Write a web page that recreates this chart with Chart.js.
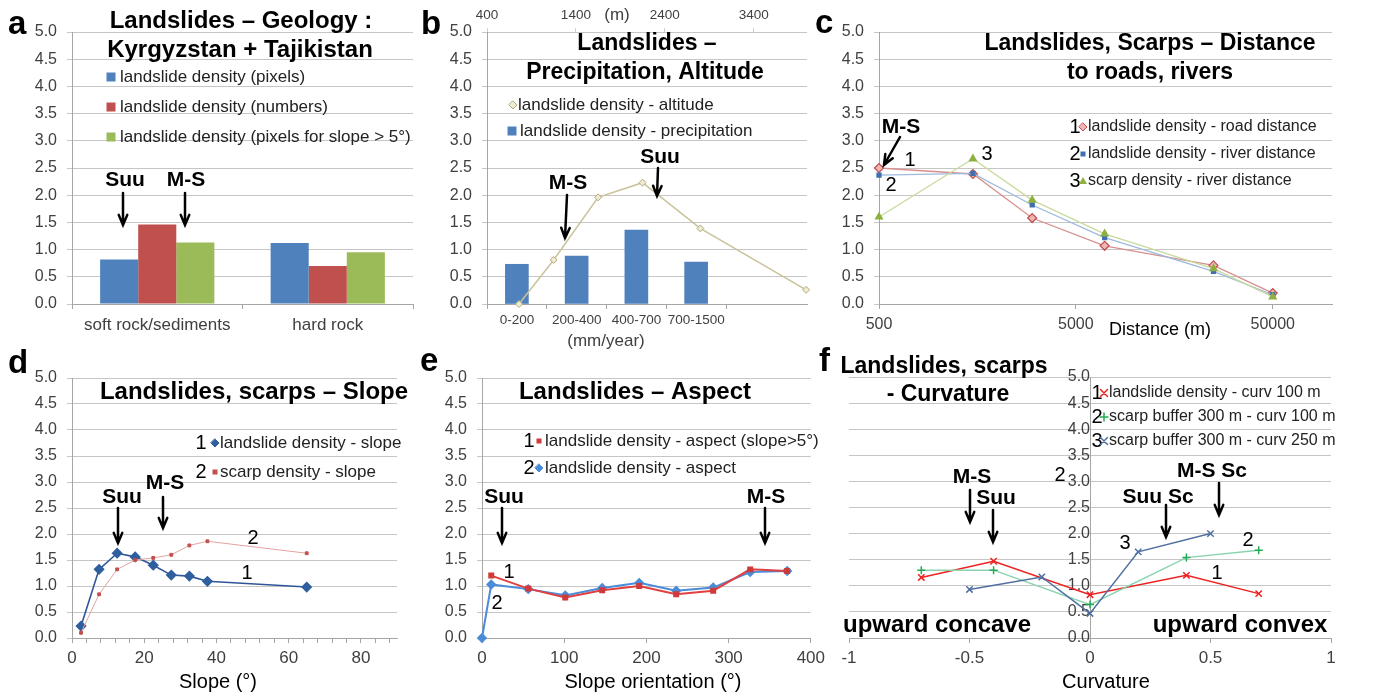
<!DOCTYPE html>
<html>
<head>
<meta charset="utf-8">
<script src="https://cdn.jsdelivr.net/npm/chart.js@4.4.0/dist/chart.umd.min.js"></script>
<style>
  body { margin: 0; background: #fff; width: 1381px; height: 693px; overflow: hidden; position: relative; }
  .p { position: absolute; }
  .lt { position: absolute; font: bold 33px "Liberation Sans", Arial, sans-serif; line-height: 33px; color: #000; }
</style>
</head>
<body>
<div class="p" style="left:0;top:0;width:420px;height:350px"><canvas id="ca"></canvas></div>
<div class="p" style="left:400px;top:0;width:430px;height:350px"><canvas id="cb"></canvas></div>
<div class="p" style="left:830px;top:0;width:551px;height:350px"><canvas id="cc"></canvas></div>
<div class="p" style="left:0;top:340px;width:420px;height:353px"><canvas id="cd"></canvas></div>
<div class="p" style="left:420px;top:340px;width:410px;height:353px"><canvas id="ce"></canvas></div>
<div class="p" style="left:830px;top:340px;width:551px;height:353px"><canvas id="cf"></canvas></div>
<div class="lt" style="left:8px;top:6px">a</div>
<div class="lt" style="left:421px;top:6px">b</div>
<div class="lt" style="left:815px;top:5px">c</div>
<div class="lt" style="left:8px;top:345px">d</div>
<div class="lt" style="left:420px;top:343px">e</div>
<div class="lt" style="left:819px;top:343px">f</div>
<script>
// ---- data ----
// a: geology
const geoCats = ["soft rock/sediments", "hard rock"];
const geoPixels = [0.82, 1.12];
const geoNumbers = [1.46, 0.70];
const geoSlope5 = [1.13, 0.95];
// b: precipitation (bars) + altitude (line, top axis)
const precipCats = ["0-200", "200-400", "400-700", "700-1500"];
const precipDensity = [0.73, 0.88, 1.36, 0.77];
const altitudeM = [760, 1150, 1650, 2150, 2800, 3990];
const altitudeDensity = [0.0, 0.81, 1.96, 2.23, 1.39, 0.26];
const altitudeTicks = [400, 1400, 2400, 3400];
// c: distance to roads / rivers
const distM = [500, 1500, 3000, 7000, 25000, 50000];
const roadDensity = [2.50, 2.39, 1.58, 1.07, 0.71, 0.20];
const riverDensity = [2.37, 2.40, 1.82, 1.22, 0.60, 0.17];
const scarpRiverDensity = [1.60, 2.67, 1.91, 1.29, 0.65, 0.13];
const distTicks = [500, 5000, 50000];
// d: slope
const slopeDeg = [2.5, 7.5, 12.5, 17.5, 22.5, 27.5, 32.5, 37.5, 65];
const slopeLandslide = [0.23, 1.32, 1.63, 1.56, 1.40, 1.21, 1.19, 1.09, 0.98];
const slopeScarp = [0.10, 0.84, 1.32, 1.50, 1.54, 1.60, 1.78, 1.86, 1.63];
// e: aspect
const aspectDeg = [0, 11.25, 56.25, 101.25, 146.25, 191.25, 236.25, 281.25, 326.25, 371.25];
const aspectSlope5 = [null, 1.20, 0.95, 0.78, 0.92, 1.00, 0.84, 0.91, 1.32, 1.29];
const aspectAll = [0, 1.03, 0.94, 0.82, 0.96, 1.06, 0.91, 0.97, 1.27, 1.29];
// f: curvature
const curv100 = [-0.7, -0.4, 0, 0.4, 0.7];
const curvLandslide = [1.16, 1.47, 0.83, 1.20, 0.85];
const curvScarp100 = [1.30, 1.30, 0.64, 1.54, 1.68];
const curv250 = [-0.5, -0.2, 0, 0.2, 0.5];
const curvScarp250 = [0.93, 1.17, 0.47, 1.65, 2.00];

const FONT = '"Liberation Sans", Arial, sans-serif';
const gridCol = "#c6c6c6";
const axisCol = "#a6a6a6";
const tickCol = "#404040";

const xy = (xs, ys) => xs.map((x, i) => ({ x: x, y: ys[i] }));

// texts / arrows / legends drawn over each chart (canvas pixel coords)
const NOTES = {
  ca: {
    texts: [
      ["Landslides – Geology :", 241, 21, "bold 24px"],
      ["Kyrgyzstan + Tajikistan", 240, 50, "bold 24px"],
      ["Suu", 125, 180, "bold 21px"],
      ["M-S", 186, 180, "bold 21px"],
    ],
    arrows: [[123, 193, 123, 225], [185, 193, 185, 225]],
    legend: [
      [null, 0, "square", "#4F81BD", null, 111, 120, 77, "landslide density (pixels)", 17],
      [null, 0, "square", "#C0504D", null, 111, 120, 107, "landslide density (numbers)", 17],
      [null, 0, "square", "#9BBB59", null, 111, 120, 137, "landslide density (pixels for slope > 5°)", 17],
    ],
  },
  cb: {
    texts: [
      ["Landslides –", 247, 44, "bold 23px"],
      ["Precipitation, Altitude", 245, 73, "bold 23px"],
      ["Suu", 260, 157, "bold 21px"],
      ["M-S", 168, 183, "bold 21px"],
      ["(m)", 217, 15, "17px", tickCol],
      ["(mm/year)", 206, 341, "17px", tickCol],
    ],
    arrows: [[167, 195, 165, 238], [258, 168, 257, 196]],
    legend: [
      [null, 0, "rectRot", "#EEEBD3", "#B3AA7A", 113, 118, 105, "landslide density - altitude", 17],
      [null, 0, "square", "#4F81BD", null, 112, 120, 131, "landslide density - precipitation", 17],
    ],
  },
  cc: {
    texts: [
      ["Landslides, Scarps – Distance", 320, 44, "bold 23px"],
      ["to roads, rivers", 320, 73, "bold 23px"],
      ["M-S", 71, 127, "bold 21px"],
      ["1", 80, 160, "20px"],
      ["2", 61, 185, "20px"],
      ["3", 157, 154, "20px"],
      ["Distance (m)", 330, 330, "18px"],
    ],
    arrows: [[70, 137, 54, 165]],
    legend: [
      ["1", 245, "rectRot", "#EDB5B3", "#C0504D", 253, 258, 127, "landslide density - road distance", 16],
      ["2", 245, "rect", "#3F6FB0", null, 253, 258, 154, "landslide density - river distance", 16],
      ["3", 245, "triangle", "#8DB040", null, 253, 258, 181, "scarp density - river distance", 16],
    ],
  },
  cd: {
    texts: [
      ["Landslides, scarps – Slope", 254, 52, "bold 24px"],
      ["Suu", 122, 157, "bold 21px"],
      ["M-S", 165, 143, "bold 21px"],
      ["2", 253, 198, "20px"],
      ["1", 247, 233, "20px"],
      ["Slope (°)", 218, 342, "20px"],
    ],
    arrows: [[118, 168, 118, 203], [163, 157, 163, 188]],
    legend: [
      ["1", 201, "rectRot", "#2F5F9E", null, 215, 220, 103, "landslide density - slope", 17],
      ["2", 201, "rect", "#C0504D", null, 215, 220, 132, "scarp density - slope", 17],
    ],
  },
  ce: {
    texts: [
      ["Landslides – Aspect", 215, 52, "bold 24px"],
      ["Suu", 84, 157, "bold 21px"],
      ["M-S", 346, 157, "bold 21px"],
      ["1", 89, 232, "20px"],
      ["2", 77, 263, "20px"],
      ["Slope orientation (°)", 233, 342, "20px"],
    ],
    arrows: [[82, 168, 82, 203], [345, 168, 345, 203]],
    legend: [
      ["1", 109, "rect", "#D03A3A", null, 119, 125, 101, "landslide density - aspect (slope>5°)", 17],
      ["2", 109, "rectRot", "#4A8CD8", null, 119, 125, 128, "landslide density - aspect", 17],
    ],
  },
  cf: {
    texts: [
      ["Landslides, scarps", 114, 27, "bold 23px"],
      ["- Curvature", 118, 55, "bold 23px"],
      ["M-S", 142, 137, "bold 21px"],
      ["Suu", 166, 158, "bold 21px"],
      ["Suu Sc", 328, 157, "bold 21px"],
      ["M-S Sc", 382, 131, "bold 21px"],
      ["2", 230, 135, "20px"],
      ["3", 295, 203, "20px"],
      ["2", 418, 200, "20px"],
      ["1", 387, 233, "20px"],
      ["upward concave", 107, 285, "bold 24px"],
      ["upward convex", 410, 285, "bold 24px"],
      ["Curvature", 276, 342, "20px"],
    ],
    arrows: [[140, 150, 140, 182], [163, 170, 163, 202], [336, 165, 336, 197], [389, 143, 389, 175]],
    legend: [
      ["1", 267, "crossRot", "#EE2020", null, 274, 279, 53, "landslide density - curv 100 m", 16],
      ["2", 267, "cross", "#22AA55", null, 274, 279, 77, "scarp buffer 300 m - curv 100 m", 16],
      ["3", 267, "crossRot", "#4F6FA0", null, 274, 279, 101, "scarp buffer 300 m - curv 250 m", 16],
    ],
  },
};

function mark(ctx, st, x, y, fill, line) {
  ctx.save();
  ctx.fillStyle = fill;
  ctx.strokeStyle = line || fill;
  ctx.lineWidth = 1.5;
  ctx.beginPath();
  if (st === "square") {
    ctx.fillRect(x - 4.5, y - 4.5, 9, 9);
  } else if (st === "rect") {
    ctx.fillRect(x - 2.5, y - 2.5, 5, 5);
  } else if (st === "rectRot") {
    ctx.moveTo(x, y - 4); ctx.lineTo(x + 4, y); ctx.lineTo(x, y + 4); ctx.lineTo(x - 4, y); ctx.closePath();
    ctx.fill(); ctx.lineWidth = 1; ctx.stroke();
  } else if (st === "triangle") {
    ctx.moveTo(x, y - 4); ctx.lineTo(x + 4, y + 3); ctx.lineTo(x - 4, y + 3); ctx.closePath(); ctx.fill();
  } else if (st === "cross") {
    ctx.moveTo(x - 4, y); ctx.lineTo(x + 4, y); ctx.moveTo(x, y - 4); ctx.lineTo(x, y + 4); ctx.stroke();
  } else if (st === "crossRot") {
    ctx.moveTo(x - 3.5, y - 3.5); ctx.lineTo(x + 3.5, y + 3.5); ctx.moveTo(x + 3.5, y - 3.5); ctx.lineTo(x - 3.5, y + 3.5); ctx.stroke();
  }
  ctx.restore();
}

function arrow(ctx, x1, y1, x2, y2) {
  const ang = Math.atan2(y2 - y1, x2 - x1), h = 11;
  ctx.beginPath();
  ctx.moveTo(x1, y1); ctx.lineTo(x2, y2);
  ctx.moveTo(x2 - h * Math.cos(ang - 0.4), y2 - h * Math.sin(ang - 0.4));
  ctx.lineTo(x2, y2);
  ctx.lineTo(x2 - h * Math.cos(ang + 0.4), y2 - h * Math.sin(ang + 0.4));
  ctx.stroke();
}

const notesPlugin = {
  id: "notes",
  afterDraw(chart) {
    const n = NOTES[chart.canvas.id];
    if (!n) return;
    const ctx = chart.ctx;
    ctx.save();
    ctx.textBaseline = "middle";
    n.texts.forEach(([s, x, y, f, col]) => {
      ctx.font = f + " " + FONT;
      ctx.fillStyle = col || "#000";
      ctx.textAlign = "center";
      ctx.fillText(s, x, y);
    });
    ctx.strokeStyle = "#000";
    ctx.lineWidth = 2.5;
    ctx.lineCap = "round";
    n.arrows.forEach(a => arrow(ctx, a[0], a[1], a[2], a[3]));
    n.legend.forEach(([num, nx, st, fill, line, mx, tx, y, s, fs]) => {
      if (num) {
        ctx.font = "20px " + FONT;
        ctx.fillStyle = "#000";
        ctx.textAlign = "center";
        ctx.fillText(num, nx, y);
      }
      mark(ctx, st, mx, y, fill, line);
      ctx.font = fs + "px " + FONT;
      ctx.fillStyle = "#222";
      ctx.textAlign = "left";
      ctx.fillText(s, tx, y);
    });
    ctx.restore();
  },
};
Chart.register(notesPlugin);

const yAxis = (w, extra) => Object.assign({
  min: 0,
  max: 5,
  ticks: { stepSize: 0.5, callback: v => v.toFixed(1), font: { family: FONT, size: 16 }, color: tickCol, padding: 10 },
  grid: { color: gridCol, tickLength: 5 },
  border: { color: axisCol },
  afterFit: s => { if (w) s.width = w; },
}, extra || {});

const xTickStyle = (size, pad) => ({ font: { family: FONT, size: size }, color: tickCol, padding: pad, autoSkip: false, maxRotation: 0 });
const xGrid = { drawOnChartArea: false, tickLength: 5, color: axisCol };
const setTicks = vals => axis => { axis.ticks = vals.map(v => ({ value: v })); };

const base = (pad) => ({
  responsive: true,
  maintainAspectRatio: false,
  animation: false,
  layout: { padding: pad },
  datasets: { line: { clip: false } },
  plugins: { legend: { display: false }, tooltip: { enabled: false } },
});

// a
new Chart(document.getElementById("ca"), {
  type: "bar",
  data: {
    labels: geoCats,
    datasets: [
      { data: geoPixels, backgroundColor: "#4F81BD" },
      { data: geoNumbers, backgroundColor: "#C0504D" },
      { data: geoSlope5, backgroundColor: "#9BBB59" },
    ],
  },
  options: Object.assign(base({ top: 32, right: 7, left: 0, bottom: 0 }), {
    datasets: { bar: { categoryPercentage: 0.67, barPercentage: 1 } },
    scales: {
      x: { ticks: xTickStyle(17, 6), grid: Object.assign({ offset: true }, xGrid), border: { color: axisCol }, afterFit: s => { s.height = 46; } },
      y: yAxis(72),
    },
  }),
});

// b
const precipMax = 320 / 59.75;
new Chart(document.getElementById("cb"), {
  type: "bar",
  data: {
    datasets: [
      {
        type: "line",
        xAxisID: "x2",
        data: xy(altitudeM, altitudeDensity),
        borderColor: "#C9C29A",
        borderWidth: 1.5,
        pointStyle: "rectRot",
        pointRadius: 3.5,
        pointBackgroundColor: "#EEEBD3",
        pointBorderColor: "#B3AA7A",
        pointBorderWidth: 1,
        clip: false,
      },
      {
        xAxisID: "x",
        data: precipDensity.map((v, i) => ({ x: i + 0.5, y: v })),
        backgroundColor: "#4F81BD",
        barThickness: 23,
        grouped: false,
      },
    ],
  },
  options: Object.assign(base({ top: 0, right: 23, left: 0, bottom: 0 }), {
    scales: {
      x: {
        type: "linear",
        min: 0,
        max: precipMax,
        offset: false,
        afterBuildTicks: setTicks([0, 1, 2, 3, 4]),
        ticks: Object.assign(xTickStyle(13.5, 3), { labelOffset: 30, callback: (v, i) => precipCats[i] || "" }),
        grid: Object.assign({ offset: false }, xGrid),
        border: { color: axisCol },
        afterFit: s => { s.height = 46; },
      },
      x2: {
        type: "linear",
        position: "top",
        min: 400,
        max: 4000,
        offset: false,
        afterBuildTicks: setTicks(altitudeTicks),
        ticks: Object.assign(xTickStyle(13.5, 5), { callback: v => String(v) }),
        grid: { drawOnChartArea: false, offset: false, tickLength: 4, color: "#d0d0d0" },
        border: { display: false },
        afterFit: s => { s.height = 32; },
      },
      y: yAxis(87),
    },
  }),
});

// c
new Chart(document.getElementById("cc"), {
  type: "line",
  data: {
    datasets: [
      {
        data: xy(distM, scarpRiverDensity),
        borderColor: "#C8DA9E", borderWidth: 1.3,
        pointStyle: "triangle", pointRadius: 4, pointBackgroundColor: "#8DB040", pointBorderColor: "#8DB040",
      },
      {
        data: xy(distM, riverDensity),
        borderColor: "#9DB9DC", borderWidth: 1.3,
        pointStyle: "rect", pointRadius: 2.8, pointBackgroundColor: "#3F6FB0", pointBorderColor: "#3F6FB0",
      },
      {
        data: xy(distM, roadDensity),
        borderColor: "#D7908E", borderWidth: 1.3,
        pointStyle: "rectRot", pointRadius: 4.5, pointBackgroundColor: "#EDB5B3", pointBorderColor: "#C0504D", pointBorderWidth: 1.2,
      },
    ],
  },
  options: Object.assign(base({ top: 32, right: 49, left: 0, bottom: 0 }), {
    scales: {
      x: {
        type: "logarithmic",
        min: 500,
        max: 100000,
        afterBuildTicks: setTicks(distTicks),
        ticks: Object.assign(xTickStyle(16, 6), { callback: v => String(v) }),
        grid: xGrid,
        border: { color: axisCol },
        afterFit: s => { s.height = 46; },
      },
      y: yAxis(49),
    },
  }),
});

// d
new Chart(document.getElementById("cd"), {
  type: "line",
  data: {
    datasets: [
      {
        data: xy(slopeDeg, slopeScarp),
        borderColor: "#E3A3A2", borderWidth: 1,
        pointStyle: "rect", pointRadius: 2, pointBackgroundColor: "#C0504D", pointBorderColor: "#C0504D",
      },
      {
        data: xy(slopeDeg, slopeLandslide),
        borderColor: "#2F5597", borderWidth: 1.6,
        pointStyle: "rectRot", pointRadius: 4.5, pointBackgroundColor: "#2F5F9E", pointBorderColor: "#2F5F9E",
      },
    ],
  },
  options: Object.assign(base({ top: 38, right: 23, left: 0, bottom: 0 }), {
    scales: {
      x: {
        type: "linear",
        min: 0,
        max: 90,
        afterBuildTicks: setTicks(Array.from({ length: 23 }, (_, i) => i * 4)),
        ticks: Object.assign(xTickStyle(17, 5), { callback: v => (v % 20 === 0 ? String(v) : "") }),
        grid: xGrid,
        border: { color: axisCol },
        afterFit: s => { s.height = 55; },
      },
      y: yAxis(72),
    },
  }),
});

// e
new Chart(document.getElementById("ce"), {
  type: "line",
  data: {
    datasets: [
      {
        data: xy(aspectDeg, aspectSlope5),
        borderColor: "#E04040", borderWidth: 2,
        pointStyle: "rect", pointRadius: 2.8, pointBackgroundColor: "#D03A3A", pointBorderColor: "#D03A3A",
      },
      {
        data: xy(aspectDeg, aspectAll),
        borderColor: "#4A8CD8", borderWidth: 2,
        pointStyle: "rectRot", pointRadius: 3.8, pointBackgroundColor: "#4A8CD8", pointBorderColor: "#4A8CD8",
      },
    ],
  },
  options: Object.assign(base({ top: 38, right: 17, left: 0, bottom: 0 }), {
    scales: {
      x: {
        type: "linear",
        min: 0,
        max: 400,
        ticks: Object.assign(xTickStyle(17, 5), { stepSize: 100, callback: v => String(v) }),
        grid: xGrid,
        border: { color: axisCol },
        afterFit: s => { s.height = 55; },
      },
      y: yAxis(62),
    },
  }),
});

// f
new Chart(document.getElementById("cf"), {
  type: "line",
  data: {
    datasets: [
      {
        data: xy(curv250, curvScarp250),
        borderColor: "#4F6FA0", borderWidth: 1.5,
        pointStyle: "crossRot", pointRadius: 4.5, pointBorderColor: "#4F6FA0", pointBorderWidth: 1.5,
      },
      {
        data: xy(curv100, curvScarp100),
        borderColor: "#8AD3AE", borderWidth: 1.5,
        pointStyle: "cross", pointRadius: 4, pointBorderColor: "#22AA55", pointBorderWidth: 1.5,
      },
      {
        data: xy(curv100, curvLandslide),
        borderColor: "#EE2020", borderWidth: 1.5,
        pointStyle: "crossRot", pointRadius: 4.5, pointBorderColor: "#EE2020", pointBorderWidth: 1.5,
      },
    ],
  },
  options: Object.assign(base({ top: 37, right: 50, left: 19, bottom: 0 }), {
    scales: {
      x: {
        type: "linear",
        min: -1,
        max: 1,
        ticks: Object.assign(xTickStyle(17, 5), { stepSize: 0.5, callback: v => String(v) }),
        grid: xGrid,
        border: { color: axisCol },
        afterFit: s => { s.height = 55; },
      },
      y: yAxis(0, { position: { x: 0 } }),
    },
  }),
});
</script>
</body>
</html>
